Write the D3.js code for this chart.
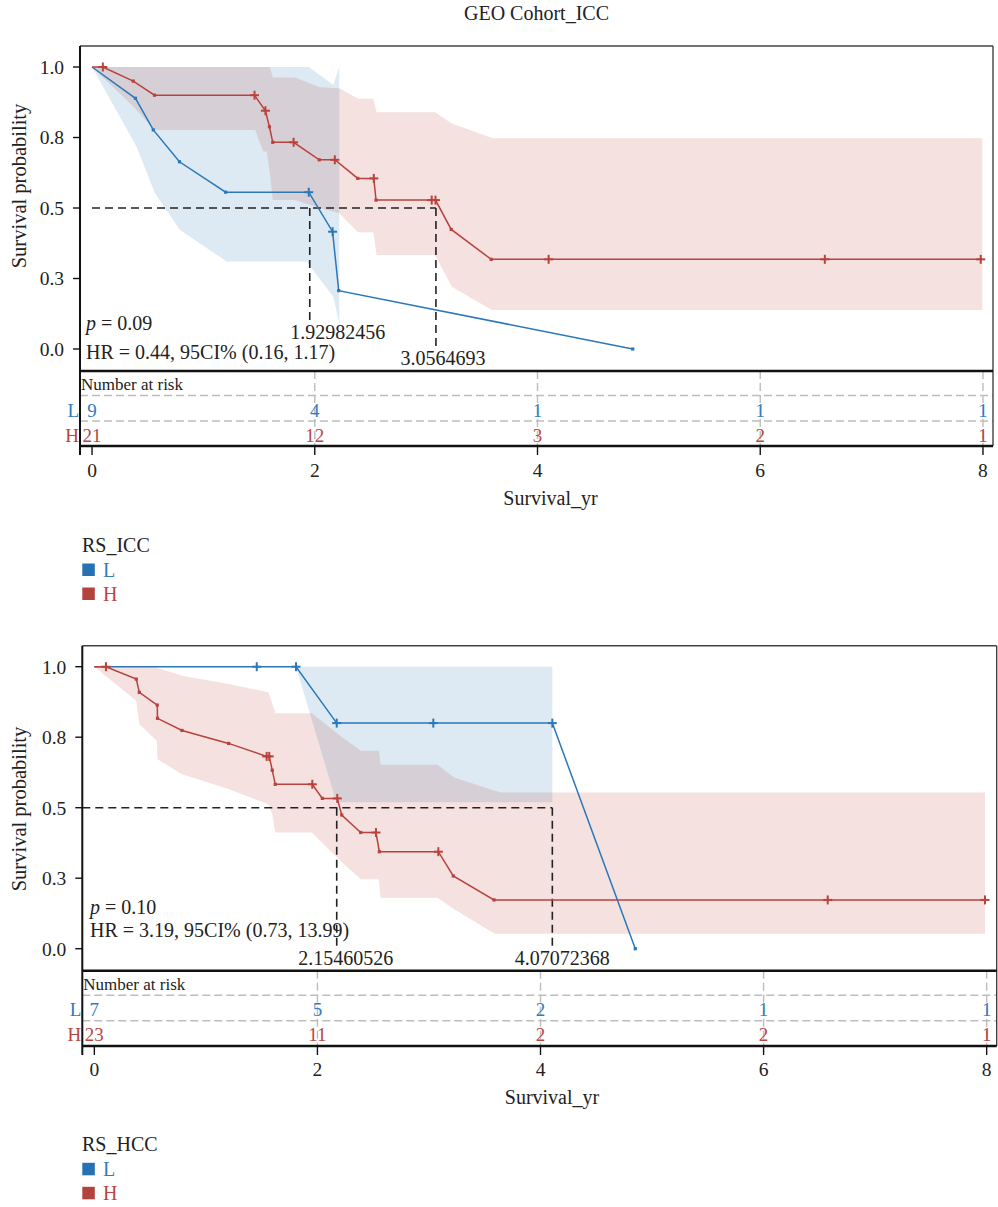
<!DOCTYPE html>
<html><head><meta charset="utf-8">
<script src="https://cdn.jsdelivr.net/npm/d3@7"></script>
<style>
body{margin:0;background:#fff}
svg{display:block}
text{font-family:"Liberation Serif","DejaVu Serif",serif;fill:#222}
</style>
</head><body>
<svg id="c" width="998" height="1207"></svg>
<script>
// ---------------- shared axis data ----------------
const xTickValues = [0, 2, 4, 6, 8];
const xTickLabels = ["0", "2", "4", "6", "8"];
const yTickValues = [0, 0.25, 0.5, 0.75, 1.0];
const yTickLabels = ["0.0", "0.3", "0.5", "0.8", "1.0"];
const groupNames = ["L", "H"];
const xDomain = [-0.108, 8.09];
const yDomain = [-0.078, 1.0745];

// ---------------- Panel 1: GEO Cohort_ICC ----------------
const icc_L_time = [0, 0.39, 0.55, 0.785, 1.20, 1.946, 2.16, 2.215, 4.855];
const icc_L_surv = [1.0, 0.889, 0.777, 0.664, 0.556, 0.556, 0.416, 0.207, 0.0];
const icc_L_cens = [0, 0, 0, 0, 0, 1, 1, 0, 0];
const icc_L_bandT  = [0, 0.40, 0.565, 0.79, 1.209, 1.93, 1.946, 2.167, 2.22];
const icc_L_bandLo = [1.0, 0.717, 0.552, 0.422, 0.31, 0.31, 0.30, 0.185, 0.09];
const icc_L_bandHi = [1.0, 1.0, 1.0, 1.0, 1.0, 1.0, 1.0, 0.936, 1.0];

const icc_H_time = [0, 0.097, 0.37, 0.561, 1.459, 1.557, 1.593, 1.623, 1.81, 2.04, 2.18, 2.386, 2.53, 2.55, 3.05, 3.084, 3.225, 3.584, 4.10, 6.58, 7.98];
const icc_H_surv = [1.0, 1.0, 0.950, 0.900, 0.900, 0.845, 0.788, 0.733, 0.733, 0.671, 0.671, 0.605, 0.605, 0.528, 0.528, 0.528, 0.424, 0.318, 0.318, 0.318, 0.318];
const icc_H_cens = [0, 1, 0, 0, 1, 1, 0, 0, 1, 0, 1, 0, 1, 0, 1, 1, 0, 0, 1, 1, 1];
const icc_H_bandT  = [0, 0.37, 0.561, 1.464, 1.538, 1.569, 1.598, 1.623, 1.82, 2.047, 2.22, 2.39, 2.525, 2.556, 3.08, 3.23, 3.59, 3.604, 7.994];
const icc_H_bandLo = [1.0, 0.86, 0.777, 0.777, 0.70, 0.70, 0.62, 0.528, 0.528, 0.50, 0.481, 0.414, 0.414, 0.333, 0.333, 0.221, 0.138, 0.138, 0.138];
const icc_H_bandHi = [1.0, 1.0, 1.0, 1.0, 1.0, 1.0, 1.0, 0.963, 0.963, 0.928, 0.925, 0.887, 0.887, 0.840, 0.840, 0.80, 0.748, 0.747, 0.747];

const icc_risk_L = [9, 4, 1, 1, 1];
const icc_risk_H = [21, 12, 3, 2, 1];
const icc_median_at = [1.955, 3.088];
const icc_median_labels = ["1.92982456", "3.0564693"];
const icc_p = "0.09";
const icc_hr = "HR = 0.44, 95CI% (0.16, 1.17)";

// ---------------- Panel 2: RS_HCC ----------------
const hcc_L_time = [0, 1.456, 1.808, 2.173, 3.039, 4.106, 4.850];
const hcc_L_surv = [1.0, 1.0, 1.0, 0.80, 0.80, 0.80, 0.0];
const hcc_L_cens = [0, 1, 1, 1, 1, 1, 0];
const hcc_L_bandT  = [1.808, 2.17, 4.106];
const hcc_L_bandLo = [1.0, 0.519, 0.519];
const hcc_L_bandHi = [1.0, 1.0, 1.0];

const hcc_H_time = [0, 0.104, 0.376, 0.403, 0.564, 0.566, 0.786, 1.204, 1.545, 1.568, 1.595, 1.622, 1.954, 2.044, 2.178, 2.218, 2.388, 2.525, 2.555, 3.084, 3.218, 3.583, 6.575, 7.985];
const hcc_H_surv = [1.0, 1.0, 0.956, 0.909, 0.864, 0.817, 0.774, 0.728, 0.682, 0.682, 0.633, 0.583, 0.583, 0.533, 0.533, 0.474, 0.412, 0.412, 0.344, 0.344, 0.258, 0.173, 0.173, 0.173];
const hcc_H_cens = [0, 1, 0, 0, 0, 0, 0, 0, 1, 1, 0, 0, 1, 0, 1, 0, 0, 1, 0, 1, 0, 0, 1, 1];
const hcc_H_bandT  = [0, 0.376, 0.403, 0.560, 0.566, 0.786, 1.204, 1.56, 1.595, 1.622, 1.95, 2.224, 2.39, 2.55, 2.567, 3.077, 3.226, 3.59, 3.65, 7.985];
const hcc_H_bandLo = [1.0, 0.879, 0.797, 0.737, 0.672, 0.619, 0.566, 0.512, 0.477, 0.412, 0.412, 0.305, 0.246, 0.246, 0.181, 0.181, 0.140, 0.053, 0.053, 0.053];
const hcc_H_bandHi = [1.0, 1.0, 1.0, 1.0, 0.995, 0.968, 0.939, 0.909, 0.87, 0.835, 0.835, 0.749, 0.702, 0.702, 0.652, 0.652, 0.607, 0.56, 0.554, 0.554];

const hcc_risk_L = [7, 5, 2, 1, 1];
const hcc_risk_H = [23, 11, 2, 2, 1];
const hcc_median_at = [2.173, 4.106];
const hcc_median_labels = ["2.15460526", "4.07072368"];
const hcc_p = "0.10";
const hcc_hr = "HR = 3.19, 95CI% (0.73, 13.99)";

// ---------------- styling ----------------
const lineColor = {L: "#2a78b9", H: "#b8423c"};
const fillColor = {L: "#2576b6", H: "#b8423c"};
const textColor = {L: "#2f7dbf", H: "#bb453f"};
const legendColor = {L: "#2571b3", H: "#b3433d"};

const svg = d3.select("#c");

const panels = [
  {
    title: "GEO Cohort_ICC", legendTitle: "RS_ICC",
    left: 80, right: 993, top: 46, plotBottom: 371, tableBottom: 446,
    tickLabelY: 470, xLabelX: 550.5, xLabelY: 498, yLabelY: 186,
    pY: 323, hrY: 352, textX: 86,
    medLabelDx: [28, 7], medLabelY: [331.7, 358.3], medLineStart: 0,
    legendY: 545,
    groups: {
      L: {time: icc_L_time, surv: icc_L_surv, cens: icc_L_cens, bT: icc_L_bandT, bLo: icc_L_bandLo, bHi: icc_L_bandHi, risk: icc_risk_L},
      H: {time: icc_H_time, surv: icc_H_surv, cens: icc_H_cens, bT: icc_H_bandT, bLo: icc_H_bandLo, bHi: icc_H_bandHi, risk: icc_risk_H}
    },
    medianAt: icc_median_at, medianLabels: icc_median_labels, p: icc_p, hr: icc_hr
  },
  {
    title: null, legendTitle: "RS_HCC",
    left: 82.3, right: 996.7, top: 645.7, plotBottom: 970.7, tableBottom: 1046,
    tickLabelY: 1069, xLabelX: 552, xLabelY: 1097, yLabelY: 809,
    pY: 906.7, hrY: 930, textX: 90,
    medLabelDx: [9, 10], medLabelY: [958.3, 958.3], medLineStart: null,
    legendY: 1144.3,
    groups: {
      L: {time: hcc_L_time, surv: hcc_L_surv, cens: hcc_L_cens, bT: hcc_L_bandT, bLo: hcc_L_bandLo, bHi: hcc_L_bandHi, risk: hcc_risk_L},
      H: {time: hcc_H_time, surv: hcc_H_surv, cens: hcc_H_cens, bT: hcc_H_bandT, bLo: hcc_H_bandLo, bHi: hcc_H_bandHi, risk: hcc_risk_H}
    },
    medianAt: hcc_median_at, medianLabels: hcc_median_labels, p: hcc_p, hr: hcc_hr
  }
];

function drawPanel(P) {
  const x = d3.scaleLinear().domain(xDomain).range([P.left, P.right]);
  const y = d3.scaleLinear().domain(yDomain).range([P.plotBottom, P.top]);
  const g = svg.append("g");

  if (P.title) {
    g.append("text").attr("x", (P.left + P.right) / 2).attr("y", 13).attr("dy", "0.35em")
      .attr("text-anchor", "middle").attr("font-size", 20).text(P.title);
  }

  // confidence bands
  groupNames.forEach(k => {
    const G = P.groups[k];
    const pts = G.bT.map((t, i) => ({t, lo: G.bLo[i], hi: G.bHi[i]}));
    g.append("path")
      .attr("d", d3.area().x(d => x(d.t)).y0(d => y(d.lo)).y1(d => y(d.hi))(pts))
      .attr("fill", fillColor[k]).attr("fill-opacity", 0.155);
  });

  // median dashed lines
  const medMax = d3.max(P.medianAt);
  const hStart = P.medLineStart === null ? P.left : x(P.medLineStart);
  g.append("line").attr("x1", hStart).attr("x2", x(medMax))
    .attr("y1", y(0.5)).attr("y2", y(0.5))
    .attr("stroke", "#222").attr("stroke-width", 1.6).attr("stroke-dasharray", "8,5");
  P.medianAt.forEach((m, i) => {
    g.append("line").attr("x1", x(m)).attr("x2", x(m))
      .attr("y1", y(0.5)).attr("y2", P.medLabelY[i] - 11)
      .attr("stroke", "#222").attr("stroke-width", 1.6).attr("stroke-dasharray", "8,5");
    g.append("text").attr("x", x(m) + P.medLabelDx[i]).attr("y", P.medLabelY[i]).attr("dy", "0.35em")
      .attr("text-anchor", "middle").attr("font-size", 20).text(P.medianLabels[i]);
  });

  // survival curves
  const line = d3.line().x(d => x(d.t)).y(d => y(d.s));
  groupNames.forEach(k => {
    const G = P.groups[k];
    const pts = G.time.map((t, i) => ({t, s: G.surv[i], c: G.cens[i], i}));
    g.append("path").attr("d", line(pts)).attr("fill", "none")
      .attr("stroke", lineColor[k]).attr("stroke-width", 1.5);
    // event markers
    g.selectAll(null).data(pts.filter(d => !d.c && d.i > 0)).enter().append("rect")
      .attr("x", d => x(d.t) - 1.6).attr("y", d => y(d.s) - 1.6)
      .attr("width", 3.2).attr("height", 3.2).attr("fill", lineColor[k]);
    // censor markers
    const cg = g.selectAll(null).data(pts.filter(d => d.c)).enter().append("g")
      .attr("transform", d => `translate(${x(d.t)},${y(d.s)})`);
    cg.append("line").attr("x1", -4.5).attr("x2", 4.5).attr("stroke", lineColor[k]).attr("stroke-width", 2);
    cg.append("line").attr("y1", -4.5).attr("y2", 4.5).attr("stroke", lineColor[k]).attr("stroke-width", 2);
  });

  // p and HR text
  const pt = g.append("text").attr("x", P.textX).attr("y", P.pY).attr("dy", "0.35em").attr("font-size", 20);
  pt.append("tspan").attr("font-style", "italic").text("p");
  pt.append("tspan").text(" = " + P.p);
  g.append("text").attr("x", P.textX).attr("y", P.hrY).attr("dy", "0.35em").attr("font-size", 20).text(P.hr);

  // y axis ticks
  yTickValues.forEach((v, i) => {
    g.append("line").attr("x1", P.left - 7).attr("x2", P.left).attr("y1", y(v)).attr("y2", y(v))
      .attr("stroke", "#111").attr("stroke-width", 1.4);
    g.append("text").attr("x", P.left - 16).attr("y", y(v)).attr("dy", "0.35em")
      .attr("text-anchor", "end").attr("font-size", 19.5).text(yTickLabels[i]);
  });
  g.append("text").attr("transform", `translate(19,${P.yLabelY}) rotate(-90)`).attr("dy", "0.35em")
    .attr("text-anchor", "middle").attr("font-size", 20.5).text("Survival probability");

  // ---- risk table ----
  const rowY = [P.plotBottom + 39, P.plotBottom + 64];
  const sepY = [P.plotBottom + 24.5, P.plotBottom + 50];
  sepY.forEach(yy => {
    g.append("line").attr("x1", P.left).attr("x2", P.right).attr("y1", yy).attr("y2", yy)
      .attr("stroke", "#bdbdbd").attr("stroke-width", 1.6).attr("stroke-dasharray", "8,4");
  });
  xTickValues.forEach(v => {
    if (v === 0) return;
    g.append("line").attr("x1", x(v)).attr("x2", x(v)).attr("y1", P.plotBottom).attr("y2", P.tableBottom)
      .attr("stroke", "#bdbdbd").attr("stroke-width", 1.4).attr("stroke-dasharray", "8,4");
  });
  g.append("text").attr("x", P.left + 1).attr("y", P.plotBottom + 13).attr("dy", "0.35em")
    .attr("font-size", 17).text("Number at risk");
  groupNames.forEach((k, r) => {
    g.append("text").attr("x", P.left - 1).attr("y", rowY[r]).attr("dy", "0.35em")
      .attr("text-anchor", "end").attr("font-size", 19).style("fill", textColor[k]).text(k);
    P.groups[k].risk.forEach((n, i) => {
      g.append("text").attr("x", x(xTickValues[i])).attr("y", rowY[r]).attr("dy", "0.35em")
        .attr("text-anchor", "middle").attr("font-size", 19).style("fill", textColor[k]).text(n);
    });
  });

  // x axis ticks
  xTickValues.forEach((v, i) => {
    g.append("line").attr("x1", x(v)).attr("x2", x(v)).attr("y1", P.tableBottom).attr("y2", P.tableBottom + 9)
      .attr("stroke", "#111").attr("stroke-width", 1.4);
    g.append("text").attr("x", x(v)).attr("y", P.tickLabelY).attr("dy", "0.35em")
      .attr("text-anchor", "middle").attr("font-size", 19.5).text(xTickLabels[i]);
  });
  g.append("text").attr("x", P.xLabelX).attr("y", P.xLabelY).attr("dy", "0.35em")
    .attr("text-anchor", "middle").attr("font-size", 20).text("Survival_yr");

  // frame
  g.append("line").attr("x1", P.left).attr("x2", P.right).attr("y1", P.top).attr("y2", P.top)
    .attr("stroke", "#444").attr("stroke-width", 1.4);
  g.append("line").attr("x1", P.right).attr("x2", P.right).attr("y1", P.top).attr("y2", P.tableBottom)
    .attr("stroke", "#333").attr("stroke-width", 1.3);
  g.append("line").attr("x1", P.left).attr("x2", P.left).attr("y1", P.top).attr("y2", P.tableBottom + 9)
    .attr("stroke", "#111").attr("stroke-width", 2);
  g.append("line").attr("x1", P.left).attr("x2", P.right).attr("y1", P.plotBottom).attr("y2", P.plotBottom)
    .attr("stroke", "#111").attr("stroke-width", 2.6);
  g.append("line").attr("x1", P.left).attr("x2", P.right).attr("y1", P.tableBottom).attr("y2", P.tableBottom)
    .attr("stroke", "#111").attr("stroke-width", 2.6);

  // legend
  g.append("text").attr("x", 82).attr("y", P.legendY).attr("dy", "0.35em")
    .attr("font-size", 20).text(P.legendTitle);
  groupNames.forEach((k, i) => {
    const cy = P.legendY + 24.5 + i * 24;
    g.append("rect").attr("x", 82.3).attr("y", cy - 6).attr("width", 12.5).attr("height", 12.5)
      .attr("fill", legendColor[k]);
    g.append("text").attr("x", 103).attr("y", cy).attr("dy", "0.35em")
      .attr("font-size", 20).style("fill", textColor[k]).text(k);
  });
}

panels.forEach(drawPanel);
</script>
</body></html>
